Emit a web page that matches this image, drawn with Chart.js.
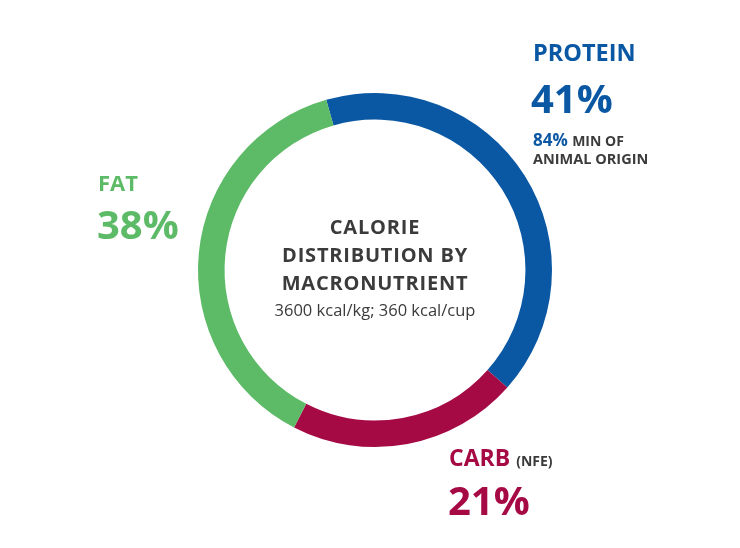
<!DOCTYPE html>
<html><head><meta charset="utf-8">
<script src="https://cdn.jsdelivr.net/npm/chart.js@4"></script>
<style>
html,body{margin:0;padding:0;background:#fff;width:740px;height:548px;overflow:hidden;font-family:"Open Sans",sans-serif}
#wrap{position:relative;width:740px;height:548px}
.t{position:absolute;white-space:nowrap;font-weight:700;line-height:1}
</style></head><body>
<div id="wrap">
<canvas id="c" width="740" height="548"></canvas>
<div class="t" style="left:533px;top:41px;font-size:23.5px;color:#0A57A3">PROTEIN</div>
<div class="t" style="left:531px;top:78px;font-size:40px;color:#0A57A3">41%</div>
<div class="t" style="left:533px;top:131px;font-size:17px;color:#0A57A3">84% <span style="font-size:14px;color:#3b3b3b">MIN OF</span></div>
<div class="t" style="left:533px;top:152px;font-size:14.5px;color:#3b3b3b">ANIMAL ORIGIN</div>
<div class="t" style="left:98px;top:171px;font-size:22px;color:#5DBB67">FAT</div>
<div class="t" style="left:97px;top:204px;font-size:40px;color:#5DBB67">38%</div>
<div class="t" style="left:449px;top:446px;font-size:23px;color:#A50A45">CARB <span style="font-size:14px;color:#3b3b3b">(NFE)</span></div>
<div class="t" style="left:448px;top:480px;font-size:40px;color:#A50A45">21%</div>
<div class="t" style="left:255px;width:240px;top:213px;font-size:20px;color:#3b3b3b;text-align:center;line-height:28px;letter-spacing:0.8px">CALORIE<br>DISTRIBUTION BY<br>MACRONUTRIENT</div>
<div class="t" style="left:245px;width:260px;top:302px;font-size:16.5px;font-weight:400;color:#3b3b3b;text-align:center">3600 kcal/kg; 360 kcal/cup</div>
</div>
<script>
const categories = ["PROTEIN","CARB (NFE)","FAT"];
const values = [41,21,38];
const colors = ["#0A57A3","#A50A45","#5DBB67"];
new Chart(document.getElementById('c'),{
  type:'doughnut',
  data:{labels:categories,datasets:[{data:values,backgroundColor:colors,borderWidth:0}]},
  options:{responsive:false,animation:false,rotation:-16,cutout:'85%',
    layout:{padding:{left:198,right:188,top:93,bottom:101}},
    plugins:{legend:{display:false},tooltip:{enabled:false}}}
});
</script>
</body></html>
